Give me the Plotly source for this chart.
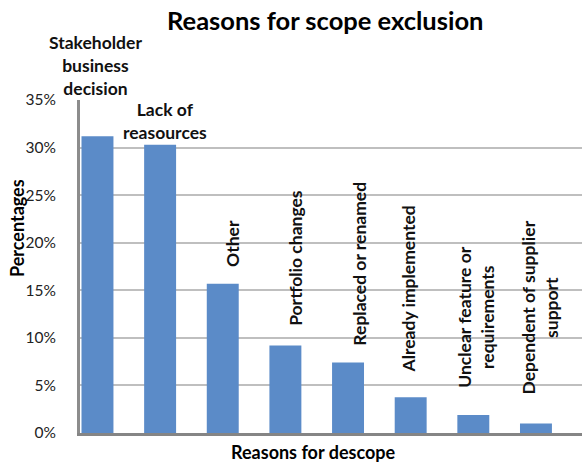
import plotly.graph_objects as go

# Reasons and their share of descoped items (%)
reasons = [
    "Stakeholder business decision",
    "Lack of reasources",
    "Other",
    "Portfolio changes",
    "Replaced or renamed",
    "Already implemented",
    "Unclear feature or requirements",
    "Dependent of supplier support",
]
shares = [31.2, 30.3, 15.7, 9.2, 7.4, 3.75, 1.9, 1.0]

# How each data label is written above its bar
label_texts = [
    "Stakeholder<br>business<br>decision",
    "Lack of<br>reasources",
    "Other",
    "Portfolio changes",
    "Replaced or renamed",
    "Already implemented",
    "Unclear feature or<br>requirements",
    "Dependent of supplier<br>support",
]
label_angles = [0, 0, -90, -90, -90, -90, -90, -90]
# manual nudges of the data labels (px)
label_dx = [-2, 5, 9, 10, 12, -2, 3, 5]
label_dy = [35, 0, 15, 18, 15, 23, 25, 27]

FONT = "Lato"
BAR_COLOR = "#5b8bc8"

fig = go.Figure(
    go.Bar(
        x=reasons,
        y=shares,
        marker=dict(color=BAR_COLOR, line=dict(width=0)),
        width=0.51,
        hoverinfo="x+y",
    )
)

for name, val, txt, ang, dx, dy in zip(reasons, shares, label_texts, label_angles, label_dx, label_dy):
    fig.add_annotation(
        x=name, y=val, xref="x", yref="y",
        text=txt, textangle=ang, showarrow=False,
        xanchor="center", yanchor="bottom",
        xshift=dx, yshift=dy,
        font=dict(family=FONT, size=17.5, color="#111111", weight="bold"),
    )

# chart title and axis titles, placed in pixels then converted below
fig.add_annotation(
    x=325, y=20, text="<b>Reasons for scope exclusion</b>",
    showarrow=False, font=dict(family=FONT, size=25.5, color="#000000"),
)
fig.add_annotation(
    x=17, y=228, text="<b>Percentages</b>", textangle=-90, showarrow=False,
    font=dict(family=FONT, size=18, color="#000000"),
)
fig.add_annotation(
    x=313, y=452, text="<b>Reasons for descope</b>", showarrow=False,
    font=dict(family=FONT, size=18, color="#000000"),
)

W, H = 582, 463
L, R, T, B = 80, 0, 100, 30

titles = fig.layout.annotations[len(reasons):]
for ann in titles:
    px, py = ann.x, ann.y
    ann.update(
        xref="paper", yref="paper",
        x=(px - L) / (W - L - R), y=(H - B - py) / (H - T - B),
        xanchor="center", yanchor="middle",
    )

fig.update_layout(
    width=W, height=H,
    margin=dict(l=L, r=R, t=T, b=B, pad=0),
    paper_bgcolor="white", plot_bgcolor="white",
    showlegend=False,
    font=dict(family=FONT),
)
fig.update_xaxes(
    range=[-0.279, 7.735],
    showticklabels=False, ticks="",
    showgrid=False, zeroline=False,
    showline=True, linecolor="#858585", linewidth=3,
    fixedrange=True,
)
fig.update_yaxes(
    range=[0, 35], dtick=5, ticksuffix="%",
    showgrid=True, gridcolor="#bfbfbf", gridwidth=2,
    zeroline=False,
    showline=True, linecolor="#8c8c8c", linewidth=3,
    ticks="outside", ticklen=0, ticklabelstandoff=18,
    tickfont=dict(family=FONT, size=15.5, color="#222222"),
    fixedrange=True,
)

fig.write_html("out.html")
